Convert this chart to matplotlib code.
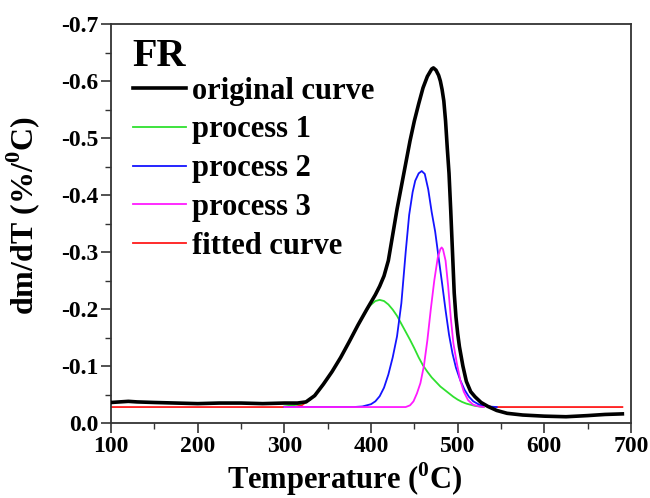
import matplotlib
matplotlib.use("Agg")
import matplotlib.pyplot as plt
from matplotlib.ticker import MultipleLocator, FormatStrFormatter

plt.rcParams['font.family'] = ['Liberation Serif', 'DejaVu Serif']
plt.rcParams['font.weight'] = 'bold'
plt.rcParams['mathtext.fontset'] = 'custom'
plt.rcParams['mathtext.rm'] = 'Liberation Serif:bold'
plt.rcParams['mathtext.bf'] = 'Liberation Serif:bold'

# DTG curve of the FR sample (dm/dT in %/°C, negative = mass loss)
original_T = [100, 110, 120, 130, 150, 175, 200, 225, 250, 275, 300, 315, 325,
              335, 345, 355, 365, 375, 385, 395, 405, 410, 415, 420, 425, 430,
              435, 440, 445, 450, 455, 460, 465, 470, 472, 475, 478, 480, 482,
              484, 486, 488, 490, 492, 494, 496, 498, 500, 502, 506, 510, 515,
              520, 527, 535, 545, 557, 575, 600, 625, 650, 670, 690]
original_v = [-0.036, -0.037, -0.038, -0.037, -0.036, -0.035, -0.034, -0.035,
              -0.035, -0.034, -0.035, -0.035, -0.037, -0.048, -0.068, -0.090,
              -0.115, -0.143, -0.172, -0.199, -0.225, -0.240, -0.258, -0.285,
              -0.330, -0.375, -0.415, -0.455, -0.495, -0.530, -0.560, -0.588,
              -0.608, -0.621, -0.623, -0.619, -0.610, -0.600, -0.585, -0.565,
              -0.530, -0.482, -0.438, -0.372, -0.300, -0.228, -0.186, -0.157,
              -0.134, -0.100, -0.073, -0.055, -0.046, -0.036, -0.029, -0.022,
              -0.017, -0.014, -0.012, -0.011, -0.013, -0.015, -0.016]

# Deconvoluted processes
p1_T = [300, 310, 320, 330, 340, 350, 360, 370, 380, 390, 398, 405, 410, 415,
        420, 425, 430, 435, 440, 445, 450, 455, 460, 465, 470, 475, 480, 485,
        490, 495, 500, 505, 510, 515, 520, 530]
p1_v = [-0.029, -0.031, -0.034, -0.041, -0.057, -0.078, -0.102, -0.129,
        -0.157, -0.185, -0.205, -0.214, -0.216, -0.214, -0.208, -0.199,
        -0.188, -0.174, -0.160, -0.146, -0.131, -0.115, -0.101, -0.090,
        -0.080, -0.072, -0.064, -0.058, -0.052, -0.046, -0.041, -0.037,
        -0.034, -0.032, -0.030, -0.028]

p2_T = [300, 380, 390, 400, 405, 410, 415, 420, 425, 430, 435, 440, 444, 448,
        451, 455, 458.5, 462, 466, 470, 474, 478, 482, 486, 490, 494, 498,
        503, 508, 513, 518, 525, 535, 545]
p2_v = [-0.028, -0.028, -0.029, -0.033, -0.038, -0.047, -0.062, -0.085,
        -0.115, -0.152, -0.210, -0.300, -0.365, -0.405, -0.425, -0.438,
        -0.442, -0.437, -0.410, -0.370, -0.336, -0.290, -0.245, -0.198,
        -0.155, -0.122, -0.097, -0.075, -0.058, -0.046, -0.038, -0.032,
        -0.029, -0.028]

p3_T = [300, 440, 445, 449, 453, 457, 461, 465, 469, 473, 477, 480, 481.5,
        483, 486, 489, 492, 495, 499, 503, 507, 512, 518, 525, 530]
p3_v = [-0.028, -0.028, -0.031, -0.038, -0.052, -0.070, -0.100, -0.145,
        -0.200, -0.250, -0.290, -0.305, -0.308, -0.305, -0.285, -0.240,
        -0.185, -0.140, -0.105, -0.075, -0.055, -0.040, -0.032, -0.029,
        -0.028]

fitted_T = [100, 310, 320, 330, 335, 345, 355, 365, 375, 385, 395, 405, 410,
            415, 420, 425, 430, 435, 440, 445, 450, 455, 460, 465, 470, 472,
            475, 478, 480, 482, 484, 486, 488, 490, 492, 494, 496, 498, 500,
            502, 506, 510, 515, 520, 527, 532, 540, 690]
fitted_v = [-0.028, -0.028, -0.031, -0.042, -0.048, -0.068, -0.090, -0.115,
            -0.143, -0.172, -0.199, -0.225, -0.240, -0.258, -0.285, -0.330,
            -0.375, -0.415, -0.455, -0.495, -0.530, -0.560, -0.588, -0.608,
            -0.621, -0.623, -0.619, -0.610, -0.600, -0.585, -0.565, -0.530,
            -0.482, -0.438, -0.372, -0.300, -0.228, -0.186, -0.157, -0.134,
            -0.100, -0.073, -0.055, -0.046, -0.036, -0.030, -0.028, -0.028]

labels = ['original curve', 'process 1', 'process 2', 'process 3', 'fitted curve']
colors = ['black', '#2fe02f', '#1414ff', '#ff1aff', '#ff1a1a']

fig = plt.figure(figsize=(6.5, 4.98), dpi=100)
ax = fig.add_axes([0.1708, 0.1506, 0.8, 0.8012])

l_fit, = ax.plot(fitted_T, fitted_v, color=colors[4], lw=1.3, zorder=2)
l_p1, = ax.plot(p1_T, p1_v, color=colors[1], lw=1.3, zorder=3)
l_p2, = ax.plot(p2_T, p2_v, color=colors[2], lw=1.3, zorder=3)
l_orig, = ax.plot(original_T, original_v, color=colors[0], lw=2.6, zorder=4,
                  solid_joinstyle='round')
l_p3, = ax.plot(p3_T, p3_v, color=colors[3], lw=1.3, zorder=5)

ax.set_xlim(100, 700)
ax.set_ylim(0, -0.7)
ax.xaxis.set_major_locator(MultipleLocator(100))
ax.xaxis.set_minor_locator(MultipleLocator(50))
ax.yaxis.set_major_locator(MultipleLocator(0.1))
ax.yaxis.set_minor_locator(MultipleLocator(0.05))
ax.yaxis.set_major_formatter(FormatStrFormatter('%.1f'))
ax.tick_params(which='major', direction='out', length=7, width=1.2,
               labelsize=17, colors='#333333', labelcolor='black', pad=2)
ax.tick_params(which='minor', direction='out', length=4, width=1.0,
               colors='#333333')
ax.tick_params(top=False, right=False, which='both')
for sp in ax.spines.values():
    sp.set_color('#333333')
    sp.set_linewidth(1.3)

ax.set_xlabel(r'Temperature ($^{0}$C)', fontsize=22, fontweight='bold')
ax.xaxis.set_label_coords(0.45, -0.093)
ax.set_ylabel(r'dm/dT (%/$^{0}$C)', fontsize=23, fontweight='bold')
ax.yaxis.set_label_coords(-0.133, 0.521)

ax.text(0.042, 0.965, 'FR', transform=ax.transAxes, fontsize=29,
        fontweight='bold', va='top', ha='left')

leg = ax.legend([l_orig, l_p1, l_p2, l_p3, l_fit], labels, loc='upper left',
                bbox_to_anchor=(0.0423, 0.868), frameon=False,
                handlelength=1.73, handletextpad=0.2, labelspacing=0.32,
                borderaxespad=0, borderpad=0,
                prop={'weight': 'bold', 'size': 22})

fig.savefig('out.png', dpi=100)
